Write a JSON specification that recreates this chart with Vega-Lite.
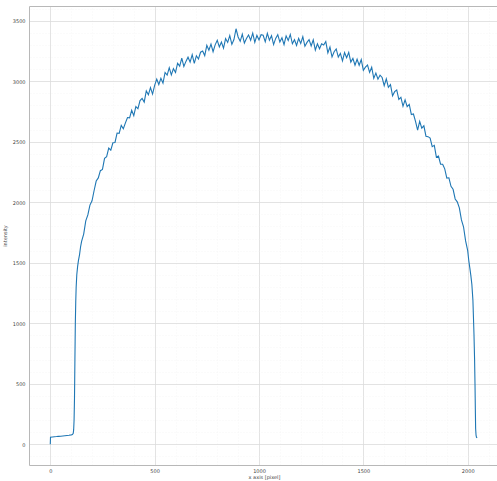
{
  "$schema": "https://vega.github.io/schema/vega-lite/v6.json",
  "autosize": {"type": "none"},
  "width": 470,
  "height": 459,
  "padding": {"left": 29, "top": 6, "right": 0, "bottom": 16},
  "background": "white",
  "config": {
    "view": {"stroke": null},
    "axis": {"labelFont": "DejaVu Sans", "titleFont": "DejaVu Sans", "labelFontSize": 5, "titleFontSize": 5, "labelColor": "#444", "titleColor": "#444", "titleFontWeight": "normal", "ticks": false, "gridColor": "#dcdcdc", "gridWidth": 0.8, "domainColor": "#b8b8b8", "domainWidth": 1, "format": "d"}
  },
  "data": {"values": [
    {"x":0,"y":0},{"x":1,"y":58},{"x":10,"y":60},{"x":20,"y":62},{"x":30,"y":63},{"x":40,"y":65},{"x":50,"y":66},{"x":60,"y":68},{"x":70,"y":70},{"x":80,"y":72},{"x":90,"y":74},{"x":100,"y":77},{"x":106,"y":80},{"x":110,"y":90},{"x":112,"y":120},{"x":114,"y":200},{"x":116,"y":380},{"x":117,"y":535},{"x":118,"y":700},{"x":119,"y":850},{"x":120,"y":1000},{"x":122,"y":1180},{"x":124,"y":1300},{"x":127,"y":1400},{"x":131,"y":1470},{"x":135,"y":1520},{"x":140,"y":1565},{"x":145,"y":1630},
    {"x":150,"y":1677},{"x":160,"y":1737},{"x":170,"y":1846},{"x":180,"y":1895},{"x":190,"y":1976},{"x":200,"y":2012},{"x":210,"y":2097},{"x":220,"y":2175},{"x":230,"y":2201},{"x":240,"y":2261},
    {"x":250,"y":2271},{"x":260,"y":2363},{"x":270,"y":2377},{"x":280,"y":2448},{"x":290,"y":2430},{"x":300,"y":2491},{"x":310,"y":2494},{"x":320,"y":2572},{"x":330,"y":2569},{"x":340,"y":2635},{"x":350,"y":2607},{"x":360,"y":2656},{"x":370,"y":2700},{"x":380,"y":2697},{"x":390,"y":2760},
    {"x":400,"y":2716},{"x":410,"y":2791},{"x":420,"y":2774},{"x":430,"y":2840},{"x":440,"y":2858},{"x":450,"y":2828},{"x":460,"y":2921},{"x":470,"y":2888},{"x":480,"y":2947},{"x":490,"y":2894},{"x":500,"y":2966},{"x":510,"y":3018},{"x":520,"y":2973},{"x":530,"y":3024},{"x":540,"y":2984},{"x":550,"y":3073},{"x":560,"y":3051},{"x":570,"y":3112},{"x":580,"y":3052},{"x":590,"y":3104},{"x":600,"y":3073},{"x":610,"y":3149},{"x":620,"y":3125},{"x":630,"y":3191},{"x":640,"y":3122},{"x":650,"y":3164},{"x":660,"y":3199},{"x":670,"y":3158},{"x":680,"y":3220},{"x":690,"y":3148},{"x":700,"y":3211},{"x":710,"y":3184},{"x":720,"y":3240},
    {"x":730,"y":3250},{"x":740,"y":3212},{"x":750,"y":3297},{"x":760,"y":3256},{"x":770,"y":3307},{"x":780,"y":3244},{"x":790,"y":3301},{"x":800,"y":3338},{"x":810,"y":3283},{"x":820,"y":3324},{"x":830,"y":3274},{"x":840,"y":3353},{"x":850,"y":3321},{"x":860,"y":3377},{"x":870,"y":3305},{"x":880,"y":3345},{"x":890,"y":3434},{"x":900,"y":3366},{"x":910,"y":3330},{"x":920,"y":3390},{"x":930,"y":3316},{"x":940,"y":3353},{"x":950,"y":3383},{"x":960,"y":3339},{"x":970,"y":3398},{"x":980,"y":3322},{"x":990,"y":3379},{"x":1000,"y":3342},{"x":1010,"y":3385},
    {"x":1020,"y":3380},{"x":1030,"y":3326},{"x":1040,"y":3396},{"x":1050,"y":3340},{"x":1060,"y":3377},{"x":1070,"y":3303},{"x":1080,"y":3354},{"x":1090,"y":3385},{"x":1100,"y":3324},{"x":1110,"y":3359},{"x":1120,"y":3302},{"x":1130,"y":3375},{"x":1140,"y":3337},{"x":1150,"y":3387},{"x":1160,"y":3310},{"x":1170,"y":3344},{"x":1180,"y":3296},{"x":1190,"y":3354},{"x":1200,"y":3313},{"x":1210,"y":3368},{"x":1220,"y":3289},{"x":1230,"y":3321},{"x":1240,"y":3344},{"x":1250,"y":3292},{"x":1260,"y":3342},{"x":1270,"y":3258},{"x":1280,"y":3309},{"x":1290,"y":3268},{"x":1300,"y":3310},
    {"x":1310,"y":3300},{"x":1320,"y":3328},{"x":1330,"y":3234},{"x":1340,"y":3283},{"x":1350,"y":3201},{"x":1360,"y":3244},{"x":1370,"y":3267},{"x":1380,"y":3200},{"x":1390,"y":3230},{"x":1400,"y":3169},{"x":1410,"y":3237},{"x":1420,"y":3194},{"x":1430,"y":3239},{"x":1440,"y":3158},{"x":1450,"y":3189},{"x":1460,"y":3133},{"x":1470,"y":3182},{"x":1480,"y":3132},{"x":1490,"y":3179},{"x":1500,"y":3091},{"x":1510,"y":3116},{"x":1520,"y":3133},{"x":1530,"y":3073},{"x":1540,"y":3116},{"x":1550,"y":3024},{"x":1560,"y":3067},{"x":1570,"y":3017},{"x":1580,"y":3050},
    {"x":1590,"y":3031},{"x":1600,"y":2964},{"x":1610,"y":3020},{"x":1620,"y":2950},{"x":1630,"y":2972},{"x":1640,"y":2880},{"x":1650,"y":2914},{"x":1660,"y":2928},{"x":1670,"y":2850},{"x":1680,"y":2867},{"x":1690,"y":2793},{"x":1700,"y":2847},
    {"x":1710,"y":2790},{"x":1720,"y":2808},{"x":1730,"y":2724},{"x":1740,"y":2729},{"x":1750,"y":2668},{"x":1760,"y":2595},{"x":1770,"y":2669},{"x":1780,"y":2613},{"x":1790,"y":2632},{"x":1800,"y":2546},{"x":1810,"y":2542},{"x":1820,"y":2530},{"x":1830,"y":2459},{"x":1840,"y":2470},{"x":1850,"y":2373},{"x":1860,"y":2381},{"x":1870,"y":2314},{"x":1880,"y":2314},{"x":1890,"y":2276},{"x":1900,"y":2199},
    {"x":1910,"y":2202},{"x":1920,"y":2132},{"x":1930,"y":2107},{"x":1940,"y":2027},{"x":1950,"y":2003},{"x":1960,"y":1954},{"x":1970,"y":1854},{"x":1980,"y":1797},{"x":1990,"y":1680},{"x":2000,"y":1600},
    {"x":2005,"y":1520},{"x":2010,"y":1460},{"x":2015,"y":1395},{"x":2020,"y":1320},{"x":2025,"y":1190},{"x":2030,"y":915},{"x":2033,"y":700},{"x":2035,"y":500},{"x":2037,"y":250},{"x":2038,"y":130},{"x":2040,"y":75},{"x":2042,"y":58},{"x":2045,"y":52}
  ]},
  "layer": [
    {
      "mark": {"type": "line", "strokeOpacity": 0, "clip": true},
      "encoding": {
        "x": {"field": "x", "type": "quantitative", "scale": {"domain": [-102, 2150], "nice": false, "zero": false},
              "axis": {"orient": "top", "labels": false, "title": null, "domain": true, "grid": true, "gridColor": "#f1f1f1", "gridDash": [1, 2], "gridWidth": 0.6,
                       "values": [-100,100,200,300,400,600,700,800,900,1100,1200,1300,1400,1600,1700,1800,1900,2100]}},
        "y": {"field": "y", "type": "quantitative", "scale": {"domain": [-172, 3622], "nice": false, "zero": false},
              "axis": {"orient": "right", "labels": false, "title": null, "domain": false, "grid": true, "gridColor": "#f1f1f1", "gridDash": [1, 2], "gridWidth": 0.6,
                       "values": [-100,100,200,300,400,600,700,800,900,1100,1200,1300,1400,1600,1700,1800,1900,2100,2200,2300,2400,2600,2700,2800,2900,3100,3200,3300,3400,3600]}}
      }
    },
    {
      "mark": {"type": "line", "color": "#1f77b4", "strokeWidth": 1.1, "clip": true},
      "encoding": {
        "x": {"field": "x", "type": "quantitative",
              "axis": {"orient": "bottom", "title": "x axis [pixel]", "values": [0, 500, 1000, 1500, 2000], "labelPadding": 3, "titlePadding": 1, "grid": true}},
        "y": {"field": "y", "type": "quantitative",
              "axis": {"orient": "left", "title": "intensity", "values": [0, 500, 1000, 1500, 2000, 2500, 3000, 3500], "labelPadding": 4, "titlePadding": 5, "grid": true}}
      }
    }
  ],
  "resolve": {"axis": {"x": "independent", "y": "independent"}}
}
